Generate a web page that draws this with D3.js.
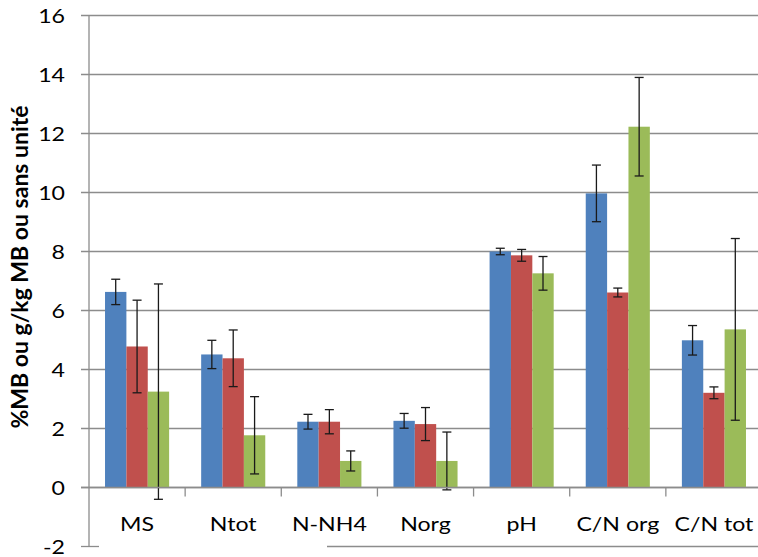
<!DOCTYPE html>
<html>
<head>
<meta charset="utf-8">
<script src="https://cdn.jsdelivr.net/npm/d3@7"></script>
<style>
  body { margin: 0; background: #fff; }
  svg text { font-family: Lato, "Open Sans", sans-serif; fill: #000; }
</style>
</head>
<body>
<svg id="chart" width="758" height="557"></svg>
<script>
const categories = ["MS", "Ntot", "N-NH4", "Norg", "pH", "C/N org", "C/N tot"];
const serie1 = [6.63, 4.51, 2.23, 2.26, 8.0, 9.97, 4.99];
const serie2 = [4.78, 4.38, 2.23, 2.15, 7.87, 6.61, 3.21];
const serie3 = [3.25, 1.77, 0.9, 0.9, 7.26, 12.23, 5.36];
const err1 = [0.43, 0.48, 0.25, 0.25, 0.11, 0.96, 0.5];
const err2 = [1.57, 0.96, 0.41, 0.56, 0.2, 0.15, 0.2];
const err3 = [3.65, 1.31, 0.34, 0.98, 0.57, 1.67, 3.08];
const yTicks = [-2, 0, 2, 4, 6, 8, 10, 12, 14, 16];

const colors = ["#4F81BD", "#C0504D", "#9BBB59"];
const series = [serie1, serie2, serie3];
const errors = [err1, err2, err3];

const svg = d3.select("#chart");
const plotLeft = 89, plotRight = 762, plotTop = 15.5, plotBottom = 546.5;
const grid = "#8c8c8c";
const stretch = 1.25; // the original picture is a bit wider than tall

const y = d3.scaleLinear().domain([-2, 16]).range([plotBottom, plotTop]);
const x = d3.scaleBand().domain(categories).range([plotLeft, plotRight]);
const xs = d3.scaleBand().domain([0, 1, 2]).range([0, x.bandwidth()]).paddingOuter(0.75);

// gridlines
svg.append("g")
  .selectAll("line")
  .data(yTicks.filter(d => d !== -2))
  .enter()
  .append("line")
  .attr("x1", 81).attr("x2", 758)
  .attr("y1", d => y(d)).attr("y2", d => y(d))
  .attr("stroke", grid).attr("stroke-width", 1.3);

// -2 gridline (partly hidden in the original)
svg.append("line").attr("x1", 81).attr("x2", 99).attr("y1", y(-2)).attr("y2", y(-2))
  .attr("stroke", grid).attr("stroke-width", 1.3);
svg.append("line").attr("x1", 327).attr("x2", 758).attr("y1", y(-2)).attr("y2", y(-2))
  .attr("stroke", grid).attr("stroke-width", 1.3);

// vertical axis line
svg.append("line").attr("x1", plotLeft).attr("x2", plotLeft).attr("y1", plotTop).attr("y2", plotBottom)
  .attr("stroke", grid).attr("stroke-width", 1.3);

// y tick labels
svg.append("g")
  .selectAll("text")
  .data(yTicks)
  .enter()
  .append("text")
  .attr("transform", d => `translate(65,${y(d)}) scale(${stretch},1)`)
  .attr("text-anchor", "end").attr("dominant-baseline", "central")
  .style("font-size", "18.5px")
  .text(d => d);

// category tick marks
svg.append("g")
  .selectAll("line")
  .data(categories)
  .enter()
  .append("line")
  .attr("x1", d => x(d) + x.step())
  .attr("x2", d => x(d) + x.step())
  .attr("y1", y(0)).attr("y2", y(0) + 9)
  .attr("stroke", grid).attr("stroke-width", 1.3);

// bars
const groups = svg.append("g")
  .selectAll("g")
  .data(categories)
  .enter()
  .append("g")
  .attr("transform", d => `translate(${x(d)},0)`);

const rows = (d, i) => series.map((s, k) => ({ k: k, v: s[i], e: errors[k][i] }));

groups.selectAll("rect")
  .data(rows)
  .enter()
  .append("rect")
  .attr("x", d => xs(d.k))
  .attr("width", xs.bandwidth())
  .attr("y", d => y(d.v))
  .attr("height", d => y(0) - y(d.v))
  .attr("fill", d => colors[d.k]);

// error bars
const eb = groups.selectAll("g.err")
  .data(rows)
  .enter()
  .append("g")
  .attr("class", "err")
  .attr("stroke", "#1a1a1a")
  .attr("stroke-width", 1.3);
const cx = d => xs(d.k) + xs.bandwidth() / 2;
eb.append("line")
  .attr("x1", cx).attr("x2", cx)
  .attr("y1", d => y(d.v + d.e)).attr("y2", d => y(d.v - d.e));
eb.append("line")
  .attr("x1", d => cx(d) - 4.5).attr("x2", d => cx(d) + 4.5)
  .attr("y1", d => y(d.v + d.e)).attr("y2", d => y(d.v + d.e));
eb.append("line")
  .attr("x1", d => cx(d) - 4.5).attr("x2", d => cx(d) + 4.5)
  .attr("y1", d => y(d.v - d.e)).attr("y2", d => y(d.v - d.e));

// x axis line at 0
svg.append("line").attr("x1", 81).attr("x2", 758).attr("y1", y(0)).attr("y2", y(0))
  .attr("stroke", grid).attr("stroke-width", 1.3);

// category labels
svg.append("g")
  .selectAll("text")
  .data(categories)
  .enter()
  .append("text")
  .attr("transform", d => `translate(${x(d) + x.bandwidth() / 2},523) scale(${stretch},1)`)
  .attr("text-anchor", "middle").attr("dominant-baseline", "central")
  .style("font-size", "18.5px")
  .text(d => d);

// y axis title
svg.append("text")
  .attr("transform", "translate(28,267) rotate(-90)")
  .attr("text-anchor", "middle")
  .style("font-size", "23px").style("font-weight", "bold")
  .text("%MB ou g/kg MB ou sans unité");
</script>
</body>
</html>
